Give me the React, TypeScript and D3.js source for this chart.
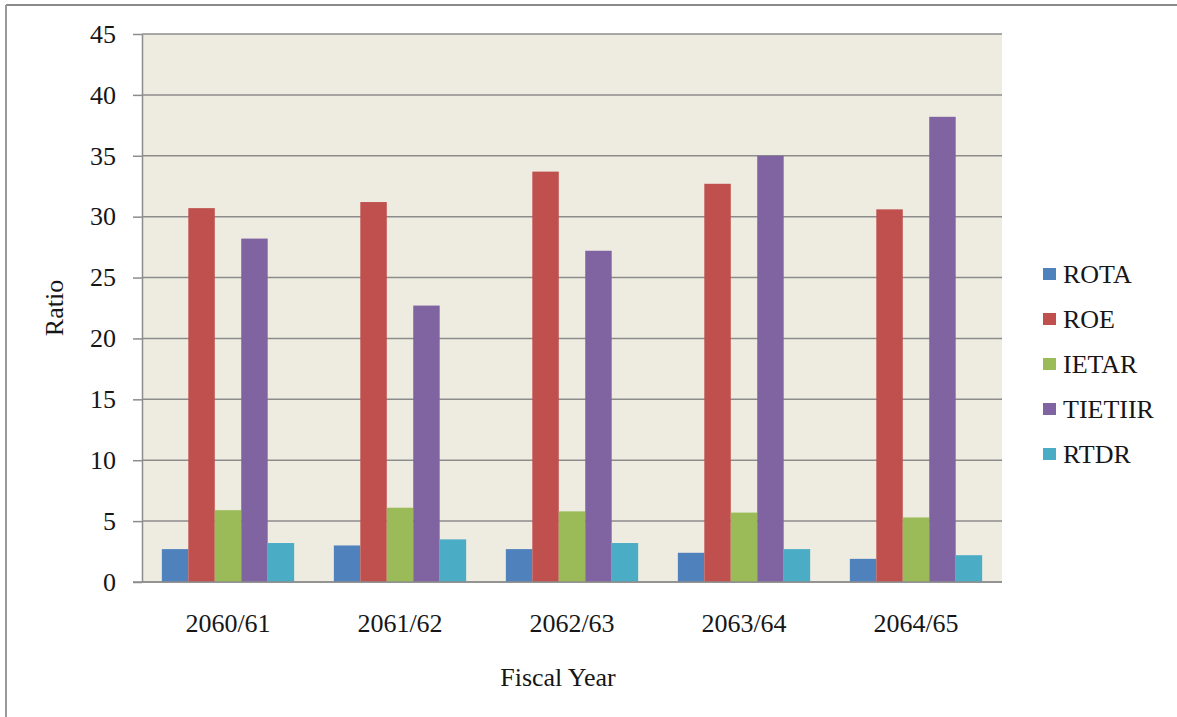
import { useEffect, useRef } from 'react';
import * as d3 from 'd3';

const WIDTH = 1177;
const HEIGHT = 717;

const CATEGORIES = ['2060/61', '2061/62', '2062/63', '2063/64', '2064/65'];
const SERIES = ['ROTA', 'ROE', 'IETAR', 'TIETIIR', 'RTDR'];

// values per series, one per fiscal year
const ROTA = [2.7, 3.0, 2.7, 2.4, 1.9];
const ROE = [30.7, 31.2, 33.7, 32.7, 30.6];
const IETAR = [5.9, 6.1, 5.8, 5.7, 5.3];
const TIETIIR = [28.2, 22.7, 27.2, 35.0, 38.2];
const RTDR = [3.2, 3.5, 3.2, 2.7, 2.2];

const Y_TICKS = [0, 5, 10, 15, 20, 25, 30, 35, 40, 45];

const COLORS = ['#4F81BD', '#C0504D', '#9BBB59', '#8064A2', '#4BACC6'];
const FONT = '"Liberation Serif", "Times New Roman", serif';
const FONT_SIZE = '26px';
const TEXT_COLOR = '#161616';

export default function App() {
  const svgRef = useRef<SVGSVGElement>(null);

  useEffect(() => {
    if (!svgRef.current) return;
    const values = [ROTA, ROE, IETAR, TIETIIR, RTDR];
    const plot = { left: 142, right: 1002, top: 34, bottom: 582 };

    const svg = d3.select(svgRef.current);
    svg.selectAll('*').remove();

    // outer frame (only top and left edges show)
    svg.append('line')
      .attr('x1', 6).attr('x2', WIDTH).attr('y1', 5).attr('y2', 5)
      .attr('stroke', '#8a8a8a').attr('stroke-width', 2);
    svg.append('line')
      .attr('x1', 6).attr('x2', 6).attr('y1', 5).attr('y2', HEIGHT)
      .attr('stroke', '#9a9a9a').attr('stroke-width', 2);

    const x = d3.scaleBand<string>()
      .domain(CATEGORIES)
      .range([plot.left, plot.right])
      .paddingInner(1.5 / 6.5)
      .paddingOuter(0.75 / 6.5);
    const xs = d3.scaleBand<string>().domain(SERIES).range([0, x.bandwidth()]);
    const y = d3.scaleLinear().domain([0, 45]).range([plot.bottom, plot.top]);

    // plot background
    svg.append('rect')
      .attr('x', plot.left).attr('y', y(45))
      .attr('width', plot.right - plot.left).attr('height', y(0) - y(45))
      .attr('fill', '#EEECE1');

    // gridlines
    svg.append('g')
      .selectAll('line')
      .data(Y_TICKS)
      .join('line')
      .attr('x1', plot.left).attr('x2', plot.right)
      .attr('y1', d => y(d)).attr('y2', d => y(d))
      .attr('stroke', '#8c8c8c')
      .attr('stroke-width', 1.5);

    // y axis
    const yAxis = svg.append('g')
      .attr('transform', `translate(${plot.left},0)`)
      .call(d3.axisLeft(y).tickValues(Y_TICKS).tickSize(9).tickPadding(17).tickSizeOuter(0));
    yAxis.select('.domain').attr('stroke', '#8c8c8c').attr('stroke-width', 1.5);
    yAxis.selectAll('.tick line').attr('stroke', '#8c8c8c').attr('stroke-width', 1.5);
    yAxis.selectAll('text')
      .attr('fill', TEXT_COLOR)
      .attr('font-size', FONT_SIZE)
      .attr('font-family', FONT);

    // bars
    SERIES.forEach((s, si) => {
      svg.append('g')
        .selectAll('rect')
        .data(values[si])
        .join('rect')
        .attr('x', (_, i) => (x(CATEGORIES[i]) ?? 0) + (xs(s) ?? 0))
        .attr('y', d => y(d))
        .attr('width', xs.bandwidth())
        .attr('height', d => y(0) - y(d))
        .attr('fill', COLORS[si]);
    });

    // x axis line
    svg.append('line')
      .attr('x1', plot.left - 9).attr('x2', plot.right)
      .attr('y1', y(0)).attr('y2', y(0))
      .attr('stroke', '#8c8c8c').attr('stroke-width', 1.5);

    // category labels
    svg.append('g')
      .selectAll('text')
      .data(CATEGORIES)
      .join('text')
      .attr('x', d => (x(d) ?? 0) + x.bandwidth() / 2)
      .attr('y', 632)
      .attr('text-anchor', 'middle')
      .attr('font-size', FONT_SIZE)
      .attr('font-family', FONT)
      .attr('fill', TEXT_COLOR)
      .text(d => d);

    // axis titles
    svg.append('text')
      .attr('transform', `translate(63,${(plot.top + plot.bottom) / 2}) rotate(-90)`)
      .attr('text-anchor', 'middle')
      .attr('font-size', FONT_SIZE)
      .attr('font-family', FONT)
      .attr('fill', TEXT_COLOR)
      .text('Ratio');
    svg.append('text')
      .attr('x', 558).attr('y', 686)
      .attr('text-anchor', 'middle')
      .attr('font-size', FONT_SIZE)
      .attr('font-family', FONT)
      .attr('fill', TEXT_COLOR)
      .text('Fiscal Year');

    // legend
    const legend = svg.append('g').attr('transform', 'translate(1043,274)');
    SERIES.forEach((s, i) => {
      legend.append('rect')
        .attr('x', 0).attr('y', i * 45 - 6)
        .attr('width', 13).attr('height', 12)
        .attr('fill', COLORS[i]);
      legend.append('text')
        .attr('x', 20).attr('y', i * 45)
        .attr('dy', '0.35em')
        .attr('font-size', FONT_SIZE)
        .attr('font-family', FONT)
        .attr('fill', TEXT_COLOR)
        .text(s);
    });
  }, []);

  return (
    <div style={{ position: 'fixed', left: 0, top: 0, background: '#fff' }}>
      <svg ref={svgRef} width={WIDTH} height={HEIGHT} style={{ display: 'block' }} />
    </div>
  );
}
